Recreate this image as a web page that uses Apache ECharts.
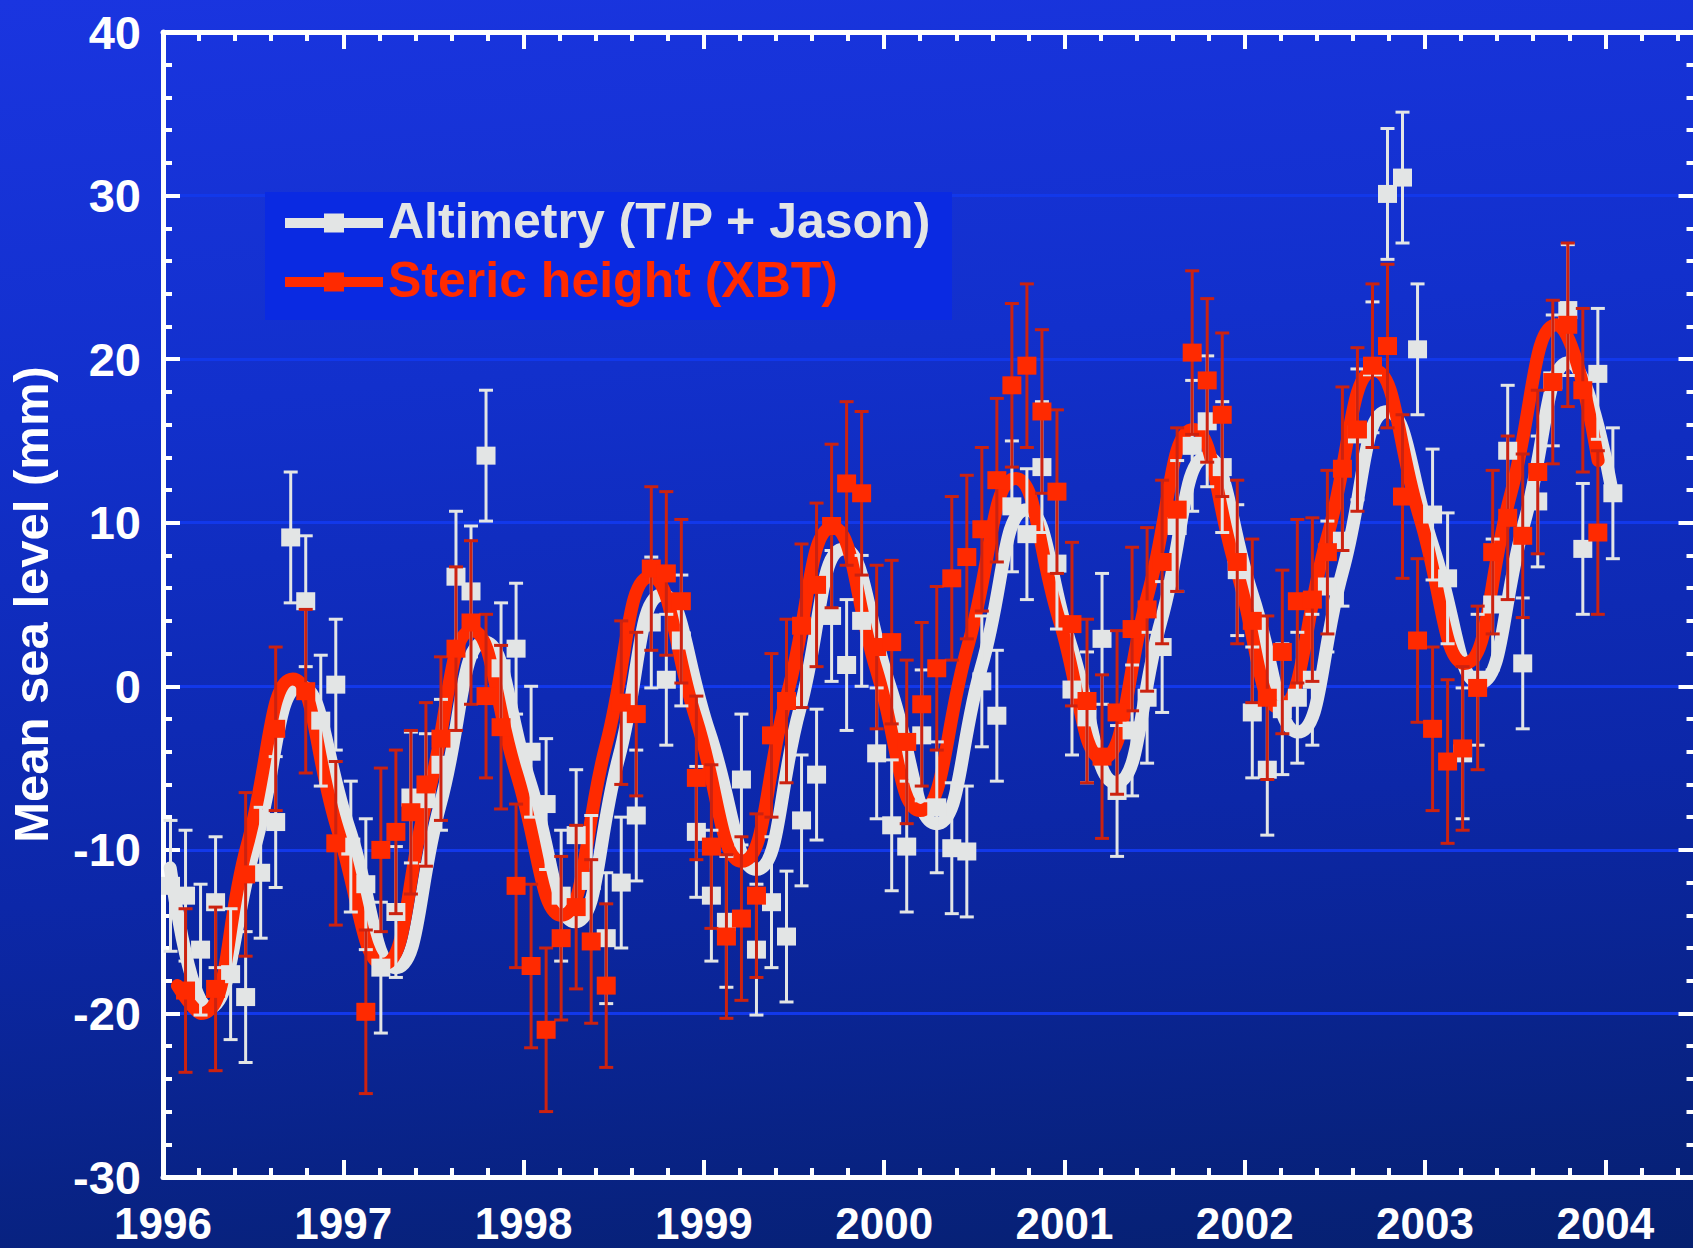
<!DOCTYPE html>
<html>
<head>
<meta charset="utf-8">
<script src="https://cdn.jsdelivr.net/npm/echarts@6/dist/echarts.min.js"></script>
<style>
    html, body { margin: 0; padding: 0; }
    #chart {
        width: 1693px;
        height: 1248px;
        background: linear-gradient(175deg, #1a35e0 0%, #1230cc 30%, #0c27a8 65%, #06206f 100%);
    }
</style>
</head>
<body>
<div id="chart"></div>
<script>
    // monthly altimetry means, Jan 1996 .. Jan 2004 (mm)
    const altimetryStart = 1996;
    const altimetry = [
        -12.2, -12.8, -16.1, -13.2, -17.6, -19.0, -11.4, -8.3, 9.1, 5.2, -2.1, 0.1,
        -9.8, -12.1, -17.2, -13.8, -6.8, -6.9, -4.8, 6.7, 5.8, 14.1, 1.1, 2.3,
        -4.0, -7.2, -12.8, -9.1, -11.9, -15.4, -12.0, -7.9, 3.9, 0.4, 2.8, -8.9,
        -12.8, -14.4, -5.7, -16.1, -13.2, -15.3, -8.2, -5.4, 4.3, 1.3, 4.0, -4.1,
        -8.5, -9.8, -3.0, -7.4, -9.9, -10.1, 0.3, -1.8, 11.0, 9.3, 13.4, 7.5,
        -0.2, -1.9, 2.9, -6.4, -2.7, -0.7, 2.4, 9.8, 14.7, 16.2, 13.4, 7.1,
        -1.6, -5.1, -1.4, -0.7, 0.4, 6.1, 8.9, 15.4, 19.5, 30.1, 31.1, 20.6,
        10.5, 6.6, -4.1, 0.4, 5.0, 14.4, 1.4, 11.3, 18.7, 23.0, 8.4, 19.1,
        11.8
    ];

    // steric height from XBT, months that have a value
    const stericMonths = [
        '1996-02', '1996-04', '1996-06', '1996-08', '1996-10', '1996-12',
        '1997-02', '1997-03', '1997-04', '1997-05', '1997-06', '1997-07', '1997-08', '1997-09', '1997-10', '1997-11', '1997-12',
        '1998-01', '1998-02', '1998-03', '1998-04', '1998-05', '1998-06', '1998-07', '1998-08', '1998-09', '1998-10', '1998-11', '1998-12',
        '1999-01', '1999-02', '1999-03', '1999-04', '1999-05', '1999-06', '1999-07', '1999-08', '1999-09', '1999-10', '1999-11', '1999-12',
        '2000-01', '2000-02', '2000-03', '2000-04', '2000-05', '2000-06', '2000-07', '2000-08', '2000-09', '2000-10', '2000-11', '2000-12',
        '2001-01', '2001-02', '2001-03', '2001-04', '2001-05', '2001-06', '2001-07', '2001-08', '2001-09', '2001-10', '2001-11', '2001-12',
        '2002-01', '2002-02', '2002-03', '2002-04', '2002-05', '2002-06', '2002-07', '2002-08', '2002-09', '2002-10', '2002-11', '2002-12',
        '2003-01', '2003-02', '2003-03', '2003-04', '2003-05', '2003-06', '2003-07', '2003-08', '2003-09', '2003-10', '2003-11', '2003-12'
    ];
    const steric = [
        -18.6, -18.5, -11.5, -2.6, -0.3, -9.6,
        -19.9, -10.0, -8.9, -7.7, -6.0, -3.2, 2.3, 3.9, -0.6, -2.5, -12.2,
        -17.1, -21.0, -15.4, -13.5, -15.6, -18.3, -1.0, -1.7, 7.2, 6.9, 5.2, -5.6,
        -9.8, -15.3, -14.2, -12.8, -3.0, -0.9, 3.7, 6.2, 9.8, 12.4, 11.8, 2.4,
        2.7, -3.4, -1.1, 1.1, 6.6, 7.9, 9.6, 12.6, 18.4, 19.6, 16.8, 11.9,
        3.8, -0.9, -4.3, -1.6, 3.5, 4.7, 7.6, 10.8, 20.4, 18.7, 16.6, 7.6,
        4.0, -0.7, 2.1, 5.2, 5.3, 8.2, 13.3, 15.7, 19.6, 20.8, 11.6, 2.8,
        -2.6, -4.6, -3.8, -0.1, 8.2, 10.3, 9.2, 13.1, 18.6, 22.1, 18.1, 9.4
    ];

    const altimetryErr = 4;   // mm, half length of the error bars
    const stericErr = 5;

    // fitted curves [decimal year, mm]
    const altimetryFit = [
        [1996.04, -11.1], [1996.254, -19.65], [1996.51, -9.8], [1996.765, 0.0],
        [1997.03, -8.6], [1997.29, -17.2], [1997.537, -7.25], [1997.785, 2.7],
        [1998.035, -5.85], [1998.285, -14.4], [1998.527, -4.4], [1998.77, 5.6],
        [1999.03, -2.8], [1999.29, -11.2], [1999.532, -1.4], [1999.775, 8.4],
        [2000.032, 0.0], [2000.29, -8.4], [2000.54, 1.2], [2000.79, 10.8],
        [2001.037, 2.45], [2001.285, -5.9], [2001.537, 4.05], [2001.79, 14.0],
        [2002.042, 5.6], [2002.295, -2.8], [2002.542, 7.0], [2002.79, 16.8],
        [2003.045, 8.5], [2003.30, 0.2], [2003.55, 10.0], [2003.80, 19.8],
        [2004.04, 11.8]
    ];
    const stericFit = [
        [1996.08, -18.3], [1996.21, -20.0], [1996.465, -9.8], [1996.72, 0.45],
        [1996.97, -8.8], [1997.22, -17.0], [1997.467, -6.8], [1997.715, 3.4],
        [1997.96, -5.3], [1998.21, -14.0], [1998.457, -3.6], [1998.705, 6.7],
        [1998.957, -2.0], [1999.21, -10.7], [1999.462, -0.5], [1999.715, 9.7],
        [1999.957, 1.0], [2000.20, -7.6], [2000.465, 2.5], [2000.73, 12.7],
        [2000.97, 4.1], [2001.21, -4.4], [2001.462, 5.6], [2001.715, 15.7],
        [2001.952, 7.2], [2002.19, -1.3], [2002.455, 9.0], [2002.72, 19.3],
        [2002.97, 10.35], [2003.22, 1.4], [2003.475, 11.75], [2003.73, 22.1],
        [2003.96, 13.8]
    ];

    const yearTicks = [1996, 1997, 1998, 1999, 2000, 2001, 2002, 2003, 2004];
    const minorYearTicks = [];
    for (let i = 0; i <= 42; i++) {
        if (i % 5 !== 0) minorYearTicks.push(+(1996 + i * 0.2).toFixed(1));
    }

    const WHITE = '#e3e5e5';
    const RED = '#ff2a00';
    const RED_BAR = '#cc2210';
    const FONT = '"Liberation Sans", Arial, Helvetica, sans-serif';

    function midMonth(s) {
        const p = s.split('-');
        return +p[0] + (+p[1] - 0.5) / 12;
    }

    const altPoints = altimetry.map((v, i) => [altimetryStart + (i + 0.5) / 12, v]);
    const stericPoints = steric.map((v, i) => [midMonth(stericMonths[i]), v]);

    function errorBars(points, err, color, z) {
        return {
            type: 'custom',
            z: z,
            silent: true,
            data: points.map(p => [p[0], p[1] - err, p[1] + err]),
            encode: {x: 0, y: [1, 2]},
            renderItem: function (params, api) {
                const lo = api.coord([api.value(0), api.value(1)]);
                const hi = api.coord([api.value(0), api.value(2)]);
                const w = 7;
                const style = {stroke: color, lineWidth: 3};
                return {
                    type: 'group',
                    children: [
                        {type: 'line', shape: {x1: hi[0], y1: hi[1], x2: lo[0], y2: lo[1]}, style: style},
                        {type: 'line', shape: {x1: hi[0] - w, y1: hi[1], x2: hi[0] + w, y2: hi[1]}, style: style},
                        {type: 'line', shape: {x1: lo[0] - w, y1: lo[1], x2: lo[0] + w, y2: lo[1]}, style: style}
                    ]
                };
            }
        };
    }

    const gridBox = {left: 163, top: 32, width: 1532.5, height: 1145, outerBoundsMode: 'none', containLabel: false};
    const tickStyle = {color: '#ffffff', width: 4};

    function xAxisFor(grid, pos, ticks, len, labels) {
        return {
            type: 'value', gridIndex: grid, position: pos, min: 1996, max: 2004.5,
            axisLine: {show: grid === 0, onZero: false, lineStyle: {color: '#ffffff', width: 5}},
            axisTick: {show: true, inside: true, length: len, lineStyle: tickStyle, customValues: ticks},
            axisLabel: labels ? {
                show: true, customValues: yearTicks, color: '#ffffff', fontSize: 44, fontWeight: 'bold',
                fontFamily: FONT, margin: 28, lineHeight: 36, formatter: v => String(v)
            } : {show: false},
            splitLine: {show: false}
        };
    }

    function yAxisFor(pos, labels) {
        return {
            type: 'value', gridIndex: 0, position: pos, min: -30, max: 40, interval: 10,
            axisLine: {show: true, onZero: false, lineStyle: {color: '#ffffff', width: 5}},
            axisTick: {show: true, inside: true, length: 17, lineStyle: tickStyle},
            minorTick: {show: true, splitNumber: 5, length: 9, lineStyle: tickStyle},
            axisLabel: labels ? {
                show: true, color: '#ffffff', fontSize: 47, fontWeight: 'bold', fontFamily: FONT, margin: 22
            } : {show: false},
            splitLine: labels ? {
                show: true, showMinLine: false, showMaxLine: false,
                lineStyle: {color: '#1238ea', width: 3}
            } : {show: false},
            name: labels ? 'Mean sea level (mm)' : '',
            nameLocation: 'middle',
            nameRotate: 90,
            nameGap: 108,
            nameTextStyle: {color: '#ffffff', fontSize: 49, fontWeight: 'bold', fontFamily: FONT}
        };
    }

    const chart = echarts.init(document.getElementById('chart'), null, {renderer: 'svg'});
    chart.setOption({
        backgroundColor: 'transparent',
        animation: false,
        grid: [Object.assign({}, gridBox), Object.assign({}, gridBox)],
        xAxis: [
            xAxisFor(0, 'bottom', yearTicks, 17, true),
            xAxisFor(0, 'top', yearTicks, 17, false),
            xAxisFor(1, 'bottom', minorYearTicks, 9, false),
            xAxisFor(1, 'top', minorYearTicks, 9, false)
        ],
        yAxis: [
            yAxisFor('left', true),
            yAxisFor('right', false),
            {type: 'value', gridIndex: 1, min: -30, max: 40, show: false}
        ],
        graphic: [
            {type: 'rect', shape: {x: 265, y: 192, width: 687, height: 128}, style: {fill: '#0a2ae2'}, z: 10},
            {type: 'line', shape: {x1: 285, y1: 223, x2: 383, y2: 223}, style: {stroke: WHITE, lineWidth: 10}, z: 11},
            {type: 'rect', shape: {x: 324, y: 213.5, width: 20, height: 19}, style: {fill: WHITE}, z: 11},
            {type: 'text', x: 388, y: 221, z: 11, style: {
                text: 'Altimetry (T/P + Jason)', fill: WHITE, font: 'bold 50px ' + FONT, verticalAlign: 'middle'
            }},
            {type: 'line', shape: {x1: 285, y1: 282, x2: 383, y2: 282}, style: {stroke: RED, lineWidth: 10}, z: 11},
            {type: 'rect', shape: {x: 324, y: 272.5, width: 20, height: 19}, style: {fill: RED}, z: 11},
            {type: 'text', x: 388, y: 280, z: 11, style: {
                text: 'Steric height (XBT)', fill: RED, font: 'bold 50px ' + FONT, verticalAlign: 'middle'
            }}
        ],
        series: [
            {
                name: 'Altimetry fit', type: 'line', xAxisIndex: 0, yAxisIndex: 0, z: 2,
                data: altimetryFit, smooth: true, showSymbol: false, silent: true,
                lineStyle: {color: WHITE, width: 13, cap: 'round', join: 'round'}
            },
            {
                name: 'Steric fit', type: 'line', xAxisIndex: 0, yAxisIndex: 0, z: 3,
                data: stericFit, smooth: true, showSymbol: false, silent: true,
                lineStyle: {color: RED, width: 13, cap: 'round', join: 'round'}
            },
            Object.assign(errorBars(altPoints, altimetryErr, WHITE, 4), {xAxisIndex: 0, yAxisIndex: 0}),
            {
                name: 'Altimetry (T/P + Jason)', type: 'scatter', xAxisIndex: 0, yAxisIndex: 0, z: 5,
                data: altPoints, symbol: 'rect', symbolSize: [19, 18], itemStyle: {color: WHITE, opacity: 1}
            },
            Object.assign(errorBars(stericPoints, stericErr, RED_BAR, 6), {xAxisIndex: 0, yAxisIndex: 0}),
            {
                name: 'Steric height (XBT)', type: 'scatter', xAxisIndex: 0, yAxisIndex: 0, z: 7,
                data: stericPoints, symbol: 'rect', symbolSize: [19, 18], itemStyle: {color: RED, opacity: 1}
            }
        ]
    });
</script>
</body>
</html>
